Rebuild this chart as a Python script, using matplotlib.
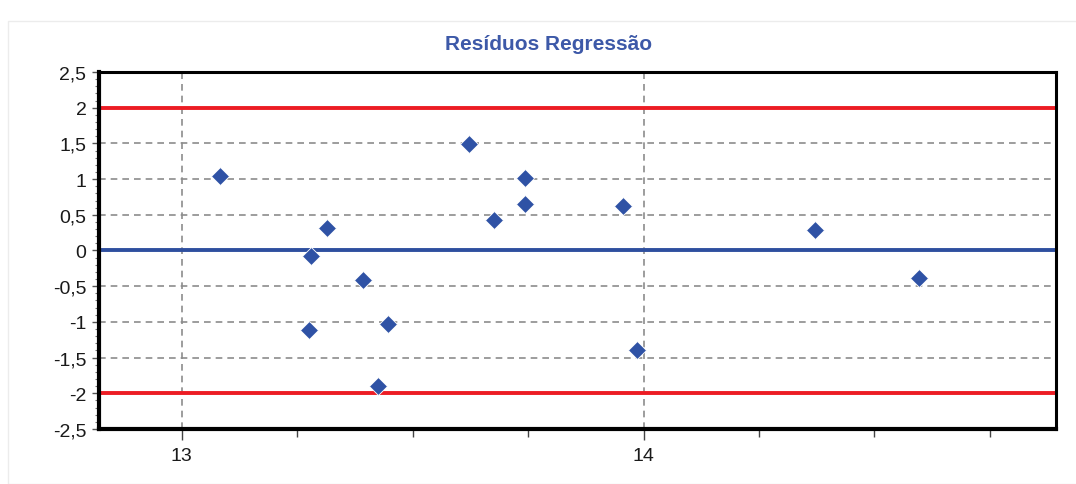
import matplotlib.pyplot as plt
from matplotlib.ticker import MultipleLocator, FuncFormatter
from matplotlib.patches import Rectangle

# Regression residuals (predicted value vs. standardized residual)
predicted = [13.084, 13.622, 13.315, 13.279, 13.392, 13.276, 13.447, 13.426,
             13.743, 13.743, 13.677, 13.955, 13.986, 14.372, 14.597]
residuals = [1.046, 1.495, 0.316, -0.077, -0.418, -1.116, -1.032, -1.902,
             1.013, 0.653, 0.428, 0.625, -1.389, 0.288, -0.390]
limit_lines = [2, -2]
center_line = 0

label_font = ["Liberation Sans Narrow", "Liberation Sans", "DejaVu Sans"]

fig = plt.figure(figsize=(10.76, 4.85), dpi=100)
fig.patches.append(Rectangle((8 / 1076, 0), 1.0, 1 - 22 / 485, transform=fig.transFigure,
                             fill=False, edgecolor="#ececec", linewidth=1.0))

ax = fig.add_axes([0.092, 0.1134, 0.889, 0.7361])

ax.set_xlim(12.821, 14.892)
ax.set_ylim(-2.5, 2.5)

# grid: vertical at whole units, horizontal every 0.5
ax.xaxis.set_major_locator(MultipleLocator(1))
ax.xaxis.set_minor_locator(MultipleLocator(0.25))
ax.yaxis.set_major_locator(MultipleLocator(0.5))
ax.yaxis.set_minor_locator(MultipleLocator(0.1))
ax.grid(True, which="major", color="#8c8c8c", linestyle=(0, (4, 3)), linewidth=1.2)
ax.set_axisbelow(True)

for y in limit_lines:
    ax.axhline(y, color="#ec1c24", linewidth=2.8, zorder=2)
ax.axhline(center_line, color="#2e4f9f", linewidth=2.8, zorder=2)

ax.plot(predicted, residuals, linestyle="none", marker="D", markersize=9,
        color="#2f52a5", markeredgecolor="white", markeredgewidth=0.6, zorder=3)

comma = FuncFormatter(lambda v, pos: f"{v:g}".replace(".", ","))
ax.yaxis.set_major_formatter(comma)
ax.xaxis.set_major_formatter(FuncFormatter(lambda v, pos: f"{v:g}"))

for side in ["left", "bottom", "top", "right"]:
    ax.spines[side].set_linewidth(2.2)
    ax.spines[side].set_color("black")
ax.spines["left"].set_linewidth(3)
ax.spines["bottom"].set_linewidth(3)

ax.tick_params(axis="y", which="major", length=5, width=1, color="#555555", pad=4)
ax.tick_params(axis="y", which="minor", length=3, width=0.8, color="#777777")
ax.tick_params(axis="x", which="major", length=8, width=1, color="#444444", pad=5)
ax.tick_params(axis="x", which="minor", length=6, width=1, color="#444444")

for lbl in ax.get_yticklabels() + ax.get_xticklabels():
    lbl.set_family(label_font)
    lbl.set_fontsize(14)
    lbl.set_color("#1a1a1a")

fig.text(549 / 1076, 1 - 45 / 485, "Resíduos Regressão", ha="center", va="center",
         fontsize=15, fontweight="bold", color="#3d59a8", family=label_font)

fig.savefig("out.png", dpi=100, facecolor="white")
